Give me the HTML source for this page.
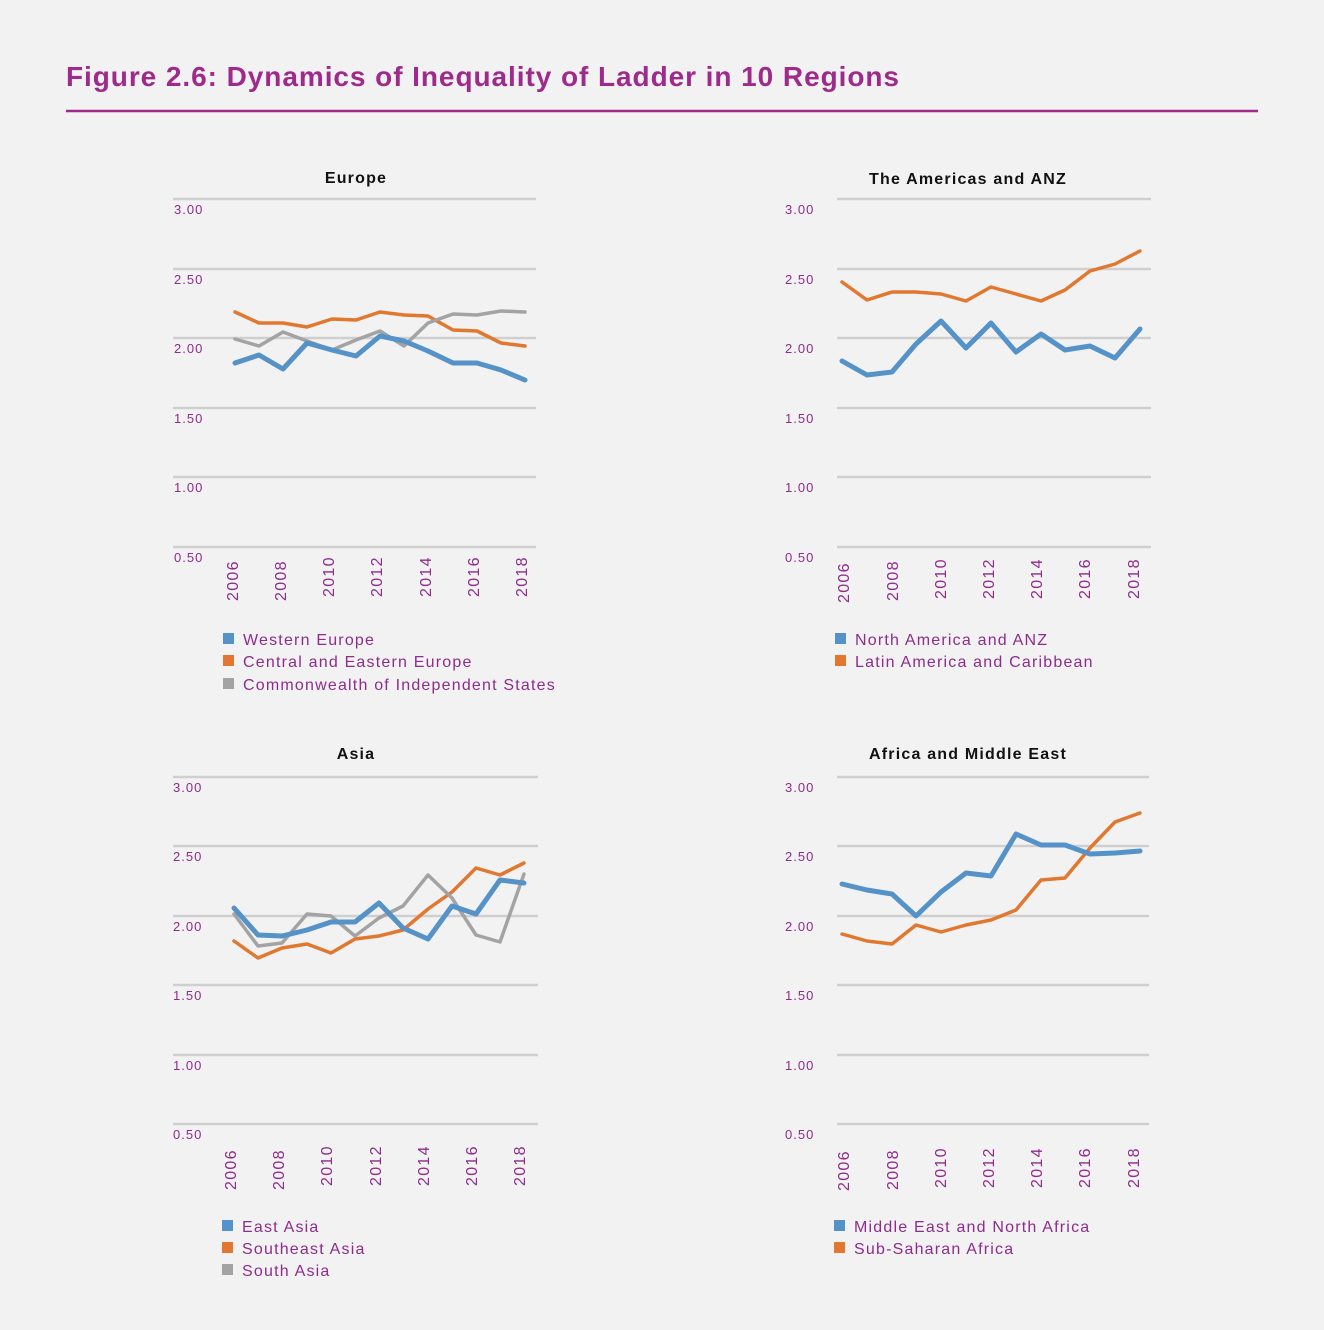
<!DOCTYPE html>
<html><head><meta charset="utf-8"><style>
body{margin:0;background:#f2f2f2;}
svg{display:block;font-family:"Liberation Sans",sans-serif;}
.tk{fill:#8e2c8c;font-size:13px;letter-spacing:1px;}
.yr{fill:#8e2c8c;font-size:16px;letter-spacing:1.3px;}
.lg{fill:#8e2c8c;font-size:16px;letter-spacing:1.2px;}
.tt{fill:#111;font-size:16px;font-weight:bold;letter-spacing:1.2px;}
.g{stroke:#cfcfcf;stroke-width:2.5;}
polyline{fill:none;stroke-linejoin:round;stroke-linecap:round;}
.b{stroke:#5592c8;stroke-width:5;}
.o{stroke:#e2772f;stroke-width:3.5;}
.y{stroke:#a3a3a3;stroke-width:3.5;}
</style></head><body>
<svg width="1324" height="1330" xmlns="http://www.w3.org/2000/svg">
<rect width="1324" height="1330" fill="#f2f2f2"/>
<text x="66" y="86" fill="#9e2a8c" font-size="28" font-weight="bold" textLength="833" lengthAdjust="spacing">Figure 2.6: Dynamics of Inequality of Ladder in 10 Regions</text>
<line x1="66" y1="111" x2="1258" y2="111" stroke="#9e2a8c" stroke-width="2.5"/>

<!-- Europe -->
<text class="tt" x="356" y="183" text-anchor="middle">Europe</text>
<g>
<line class="g" x1="173" y1="199" x2="536" y2="199"/><line class="g" x1="173" y1="269" x2="536" y2="269"/><line class="g" x1="173" y1="338" x2="536" y2="338"/><line class="g" x1="173" y1="408" x2="536" y2="408"/><line class="g" x1="173" y1="477" x2="536" y2="477"/><line class="g" x1="173" y1="547" x2="536" y2="547"/>
<text class="tk" x="174" y="214">3.00</text><text class="tk" x="174" y="284">2.50</text><text class="tk" x="174" y="353">2.00</text><text class="tk" x="174" y="423">1.50</text><text class="tk" x="174" y="492">1.00</text><text class="tk" x="174" y="562">0.50</text>
<text class="yr" transform="translate(238,601) rotate(-90)">2006</text><text class="yr" transform="translate(286,601) rotate(-90)">2008</text><text class="yr" transform="translate(334,597) rotate(-90)">2010</text><text class="yr" transform="translate(382,597) rotate(-90)">2012</text><text class="yr" transform="translate(431,597) rotate(-90)">2014</text><text class="yr" transform="translate(479,597) rotate(-90)">2016</text><text class="yr" transform="translate(527,597) rotate(-90)">2018</text>
<polyline class="o" points="235,312 259,323 283,323 307,327 332,319 356,320 380,312 404,315 428,316 453,330 477,331 501,343 525,346"/>
<polyline class="y" points="235,339 259,346 283,332 307,341 332,350 356,340 380,331 404,346 428,323 453,314 477,315 501,311 525,312"/>
<polyline class="b" points="235,363 259,355 283,369 307,343 332,350 356,356 380,336 404,341 428,351 453,363 477,363 501,370 525,380"/>
<rect x="223" y="633" width="11" height="11" fill="#5592c8"/><text class="lg" x="243" y="645">Western Europe</text>
<rect x="223" y="655" width="11" height="11" fill="#e2772f"/><text class="lg" x="243" y="667">Central and Eastern Europe</text>
<rect x="223" y="678" width="11" height="11" fill="#a3a3a3"/><text class="lg" x="243" y="690">Commonwealth of Independent States</text>
</g>

<!-- Americas -->
<text class="tt" x="968" y="184" text-anchor="middle">The Americas and ANZ</text>
<g>
<line class="g" x1="837" y1="199" x2="1151" y2="199"/><line class="g" x1="837" y1="269" x2="1151" y2="269"/><line class="g" x1="837" y1="338" x2="1151" y2="338"/><line class="g" x1="837" y1="408" x2="1151" y2="408"/><line class="g" x1="837" y1="477" x2="1151" y2="477"/><line class="g" x1="837" y1="547" x2="1151" y2="547"/>
<text class="tk" x="785" y="214">3.00</text><text class="tk" x="785" y="284">2.50</text><text class="tk" x="785" y="353">2.00</text><text class="tk" x="785" y="423">1.50</text><text class="tk" x="785" y="492">1.00</text><text class="tk" x="785" y="562">0.50</text>
<text class="yr" transform="translate(849,603) rotate(-90)">2006</text><text class="yr" transform="translate(898,601) rotate(-90)">2008</text><text class="yr" transform="translate(946,599) rotate(-90)">2010</text><text class="yr" transform="translate(994,599) rotate(-90)">2012</text><text class="yr" transform="translate(1042,599) rotate(-90)">2014</text><text class="yr" transform="translate(1090,599) rotate(-90)">2016</text><text class="yr" transform="translate(1139,599) rotate(-90)">2018</text>
<polyline class="o" points="842,282 867,300 892,292 916,292 941,294 966,301 991,287 1016,294 1041,301 1065,290 1090,271 1115,264 1140,251"/>
<polyline class="b" points="842,361 867,375 892,372 916,344 941,321 966,348 991,323 1016,352 1041,334 1065,350 1090,346 1115,358 1140,329"/>
<rect x="835" y="633" width="11" height="11" fill="#5592c8"/><text class="lg" x="855" y="645">North America and ANZ</text>
<rect x="835" y="655" width="11" height="11" fill="#e2772f"/><text class="lg" x="855" y="667">Latin America and Caribbean</text>
</g>

<!-- Asia -->
<text class="tt" x="356" y="759" text-anchor="middle">Asia</text>
<g>
<line class="g" x1="173" y1="777" x2="538" y2="777"/><line class="g" x1="173" y1="846" x2="538" y2="846"/><line class="g" x1="173" y1="916" x2="538" y2="916"/><line class="g" x1="173" y1="985" x2="538" y2="985"/><line class="g" x1="173" y1="1055" x2="538" y2="1055"/><line class="g" x1="173" y1="1124" x2="538" y2="1124"/>
<text class="tk" x="173" y="792">3.00</text><text class="tk" x="173" y="861">2.50</text><text class="tk" x="173" y="931">2.00</text><text class="tk" x="173" y="1000">1.50</text><text class="tk" x="173" y="1070">1.00</text><text class="tk" x="173" y="1139">0.50</text>
<text class="yr" transform="translate(236,1190) rotate(-90)">2006</text><text class="yr" transform="translate(284,1190) rotate(-90)">2008</text><text class="yr" transform="translate(332,1186) rotate(-90)">2010</text><text class="yr" transform="translate(381,1186) rotate(-90)">2012</text><text class="yr" transform="translate(429,1186) rotate(-90)">2014</text><text class="yr" transform="translate(477,1186) rotate(-90)">2016</text><text class="yr" transform="translate(525,1186) rotate(-90)">2018</text>
<polyline class="o" points="234,941 258,958 282,948 307,944 331,953 355,939 379,936 403,930 428,909 452,892 476,868 500,875 524,863"/>
<polyline class="y" points="234,914 258,946 282,943 307,914 331,916 355,936 379,918 403,906 428,875 452,898 476,935 500,942 524,874"/>
<polyline class="b" points="234,908 258,935 282,936 307,930 331,922 355,922 379,903 403,928 428,939 452,906 476,914 500,880 524,883"/>
<rect x="222" y="1220" width="11" height="11" fill="#5592c8"/><text class="lg" x="242" y="1232">East Asia</text>
<rect x="222" y="1242" width="11" height="11" fill="#e2772f"/><text class="lg" x="242" y="1254">Southeast Asia</text>
<rect x="222" y="1264" width="11" height="11" fill="#a3a3a3"/><text class="lg" x="242" y="1276">South Asia</text>
</g>

<!-- Africa -->
<text class="tt" x="968" y="759" text-anchor="middle">Africa and Middle East</text>
<g>
<line class="g" x1="837" y1="777" x2="1149" y2="777"/><line class="g" x1="837" y1="846" x2="1149" y2="846"/><line class="g" x1="837" y1="916" x2="1149" y2="916"/><line class="g" x1="837" y1="985" x2="1149" y2="985"/><line class="g" x1="837" y1="1055" x2="1149" y2="1055"/><line class="g" x1="837" y1="1124" x2="1149" y2="1124"/>
<text class="tk" x="785" y="792">3.00</text><text class="tk" x="785" y="861">2.50</text><text class="tk" x="785" y="931">2.00</text><text class="tk" x="785" y="1000">1.50</text><text class="tk" x="785" y="1070">1.00</text><text class="tk" x="785" y="1139">0.50</text>
<text class="yr" transform="translate(849,1191) rotate(-90)">2006</text><text class="yr" transform="translate(898,1190) rotate(-90)">2008</text><text class="yr" transform="translate(946,1188) rotate(-90)">2010</text><text class="yr" transform="translate(994,1188) rotate(-90)">2012</text><text class="yr" transform="translate(1042,1188) rotate(-90)">2014</text><text class="yr" transform="translate(1090,1188) rotate(-90)">2016</text><text class="yr" transform="translate(1139,1188) rotate(-90)">2018</text>
<polyline class="o" points="842,934 867,941 892,944 916,925 941,932 966,925 991,920 1016,910 1041,880 1065,878 1090,848 1115,822 1140,813"/>
<polyline class="b" points="842,884 867,890 892,894 916,916 941,892 966,873 991,876 1016,834 1041,845 1065,845 1090,854 1115,853 1140,851"/>
<rect x="834" y="1220" width="11" height="11" fill="#5592c8"/><text class="lg" x="854" y="1232">Middle East and North Africa</text>
<rect x="834" y="1242" width="11" height="11" fill="#e2772f"/><text class="lg" x="854" y="1254">Sub-Saharan Africa</text>
</g>
</svg>
</body></html>
